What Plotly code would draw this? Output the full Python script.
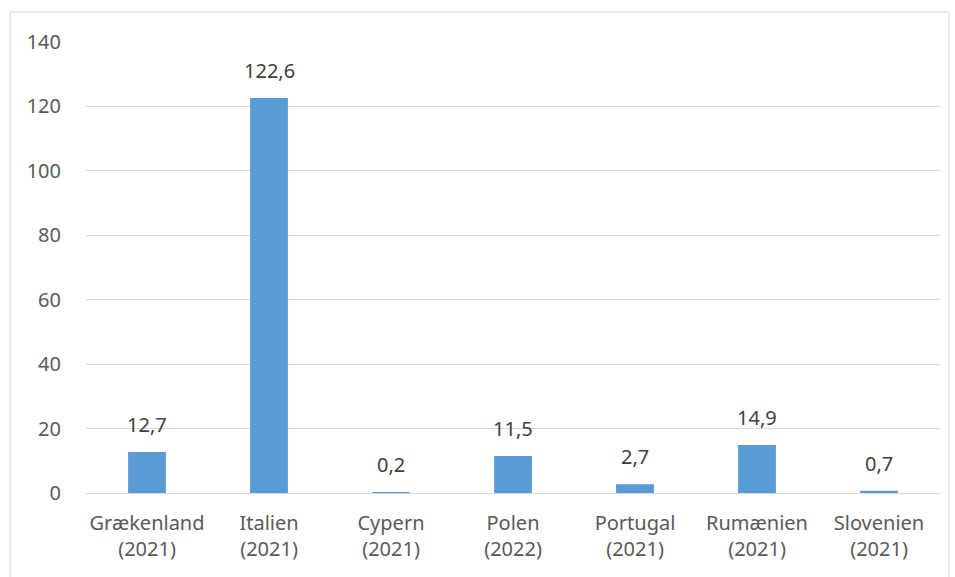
import plotly.graph_objects as go

categories = ["Grækenland<br>(2021)", "Italien<br>(2021)", "Cypern<br>(2021)", "Polen<br>(2022)",
              "Portugal<br>(2021)", "Rumænien<br>(2021)", "Slovenien<br>(2021)"]
values = [12.7, 122.6, 0.2, 11.5, 2.7, 14.9, 0.7]
labels = ["12,7", "122,6", "0,2", "11,5", "2,7", "14,9", "0,7"]
y_ticks = [0, 20, 40, 60, 80, 100, 120, 140]

FONT = "Noto Sans, Lato, sans-serif"
FS = 20

fig = go.Figure(go.Bar(
    x=categories, y=values,
    marker=dict(color="#5B9BD5", line=dict(width=0)),
    cliponaxis=False, hoverinfo="x+y",
))

for cat, val, lab in zip(categories, values, labels):
    fig.add_annotation(x=cat, y=val, text=lab, showarrow=False,
                       xanchor="center", yanchor="bottom", yshift=12,
                       font=dict(family=FONT, size=FS, color="#404040"))

W, H = 955, 577
ml, mr, mt, mb = 86, 15, 42, 84
pw, ph = W - ml - mr, H - mt - mb

def px(x):
    return (x - ml) / pw

def py(y):
    return (H - mb - y) / ph

fig.add_shape(type="rect", xref="paper", yref="paper",
              x0=px(10), x1=px(949), y0=py(590), y1=py(12),
              line=dict(color="#D9D9D9", width=1), fillcolor="rgba(0,0,0,0)", layer="below")

fig.update_layout(
    width=W, height=H,
    margin=dict(l=ml, r=mr, t=mt, b=mb),
    paper_bgcolor="white", plot_bgcolor="white",
    bargap=0.69,
    showlegend=False,
    font=dict(family=FONT, size=FS, color="#595959"),
    xaxis=dict(showgrid=False, showline=True, linecolor="#D9D9D9", linewidth=1,
               ticks="", ticklabelstandoff=12,
               tickfont=dict(family=FONT, size=FS, color="#595959")),
    yaxis=dict(range=[0, 140], tickvals=y_ticks, showgrid=True, gridcolor="#D9D9D9",
               gridwidth=1, zeroline=False, showline=False, ticks="",
               ticklabelstandoff=24,
               tickfont=dict(family=FONT, size=FS, color="#595959")),
)

fig.write_html("out.html", config={"displayModeBar": False},
               post_script="document.body.style.margin='0';document.body.style.overflow='hidden';")
